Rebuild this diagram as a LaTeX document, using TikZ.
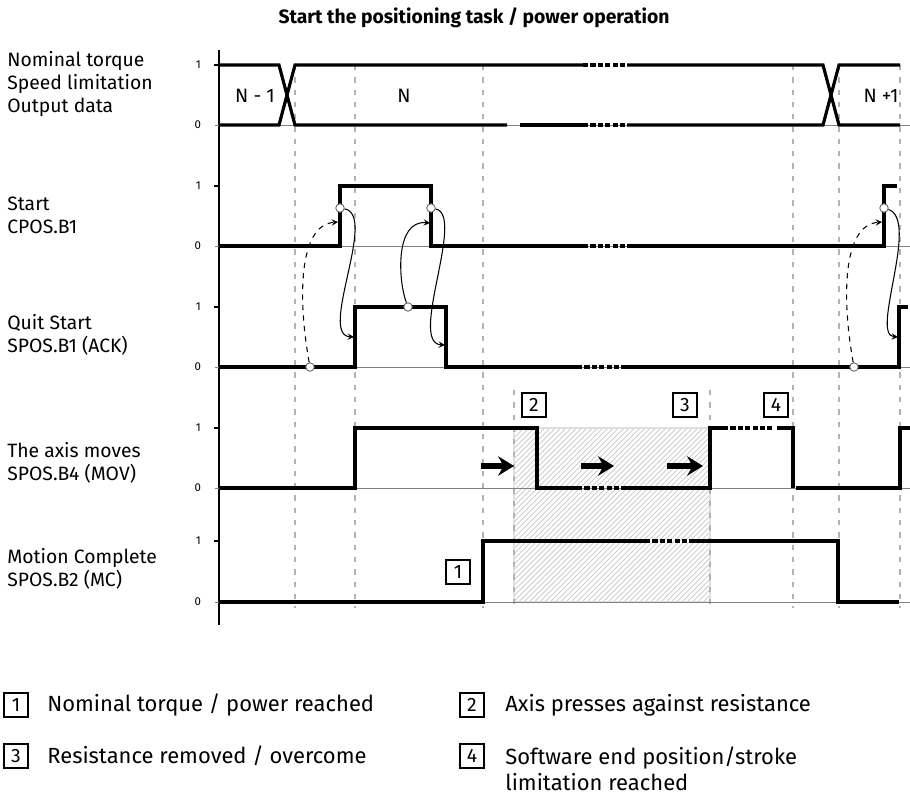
\documentclass[tikz,border=0pt]{standalone}
\usepackage{fontspec}
\setmainfont{Fira Sans}
\usepackage{tikz}
\usetikzlibrary{arrows,arrows.meta,positioning,patterns}

\begin{document}
\begin{tikzpicture}[
  x=0.02cm, y=-0.02cm,
  sig/.style={line width=1.8pt, line join=miter},
  gap/.style={line width=1.8pt, dash pattern=on 3pt off 1.2pt},
  base/.style={gray, line width=0.5pt},
  grid/.style={gray!60, line width=0.6pt, dash pattern=on 3pt off 4pt},
  tick/.style={font=\fontsize{6.5}{7}\selectfont, anchor=east, inner sep=1pt},
  lbl/.style={font=\fontsize{11}{13}\selectfont, anchor=west, align=left, inner sep=0pt},
  num/.style={draw, line width=0.6pt, minimum size=0.48cm, inner sep=0pt, font=\fontsize{11}{12}\selectfont},
  dot/.style={circle, draw=gray!80!black, fill=white, line width=0.5pt, minimum size=0.17cm, inner sep=0pt},
  flow/.style={->, >=stealth, line width=0.6pt},
  push/.style={-{Stealth[length=9pt, width=11pt, inset=3pt]}, line width=3pt},
  note/.style={font=\fontsize{12.5}{15}\selectfont, anchor=west, align=left, inner sep=0pt}
]
\useasboundingbox (0,0) rectangle (910,799);

% title
\node[font=\bfseries\fontsize{11}{13}\selectfont] (title) at (474,18) {Start the positioning task / power operation};

% hatched area
\fill[pattern=north east lines, pattern color=gray!45] (514,428) rectangle (710,602);
\draw[gray!25, line width=0.8pt] (514,428) rectangle (710,602);

% grid lines
\foreach \gx in {295,355,483,793,839,900}
  \draw[grid] (\gx,65) -- (\gx,608);
\foreach \gx in {514,710}
  \draw[grid] (\gx,390) -- (\gx,608);

% axis, zero lines and ticks
\draw[line width=0.8pt] (219,50) -- (219,625);
\foreach \hi/\lo in {65/125,186/246,307/367,428/488,541/602}{
  \draw[base] (215,\lo) -- (910,\lo);
  \draw[line width=0.6pt] (214,\hi) -- (219,\hi);
  \node[tick] at (203,\hi) {1};
  \node[tick] at (203,\lo) {0};
}

% signal names
\node[lbl] (data) at (7,84) {Nominal torque\\Speed limitation\\Output data};
\node[lbl] (start) at (7,215) {Start\\CPOS.B1};
\node[lbl] (quit) at (7,335) {Quit Start\\SPOS.B1 (ACK)};
\node[lbl] (mov) at (7,463) {The axis moves\\SPOS.B4 (MOV)};
\node[lbl] (mc) at (7,569) {Motion Complete\\SPOS.B2 (MC)};

% row 1: output data
\draw[sig] (219,65) -- (279,65) -- (295,125) -- (507,125);
\draw[sig] (520,125) -- (583,125);
\draw[gap] (583,125) -- (627,125);
\draw[sig] (627,125) -- (823,125) -- (839,65) -- (900,65);
\draw[sig] (219,125) -- (279,125) -- (295,65) -- (583,65);
\draw[gap] (583,65) -- (627,65);
\draw[sig] (627,65) -- (823,65) -- (839,125) -- (900,125);
\node[font=\fontsize{11}{12}\selectfont] (nprev) at (255,96) {N - 1};
\node[font=\fontsize{11}{12}\selectfont] (ncur) at (404,96) {N};
\node[font=\fontsize{11}{12}\selectfont] (nnext) at (881,96) {N +1};

% row 2: start
\draw[sig] (219,246) -- (340,246) -- (340,186) -- (431,186) -- (431,246) -- (583,246);
\draw[gap] (583,246) -- (627,246);
\draw[sig] (627,246) -- (884,246) -- (884,186) -- (897,186);

% row 3: quit start
\draw[sig] (219,367) -- (355,367) -- (355,307) -- (446,307) -- (446,367) -- (577,367);
\draw[gap] (577,367) -- (625,367);
\draw[sig] (625,367) -- (899,367) -- (899,307) -- (908,307);

% row 4: axis moves
\draw[sig] (219,488) -- (355,488) -- (355,428) -- (537,428) -- (537,488) -- (577,488);
\draw[gap] (577,488) -- (625,488);
\draw[sig] (625,488) -- (710,488) -- (710,428) -- (723,428);
\draw[gap] (723,428) -- (772,428);
\draw[sig] (777,428) -- (793,428) -- (793,488);
\draw[sig] (796,488) -- (900,488) -- (900,428) -- (910,428);

% row 5: motion complete
\draw[sig] (219,602) -- (483,602) -- (483,541) -- (645,541);
\draw[gap] (645,541) -- (695,541);
\draw[sig] (695,541) -- (838,541) -- (838,602) -- (899,602);

% handshake
\node[dot] (s1) at (340,208) {};
\node[dot] (s2) at (431,208) {};
\node[dot] (s3) at (884,208) {};
\node[dot] (q1) at (310,367) {};
\node[dot] (q2) at (408,307) {};
\node[dot] (q3) at (854,367) {};
\coordinate (a1) at (338,222);
\coordinate (a2) at (354,337);
\coordinate (a3) at (430,223);
\coordinate (a4) at (445,345);
\coordinate (a5) at (882,222);
\coordinate (a6) at (898,337);
\draw[flow, dashed] (q1) .. controls (298,300) and (298,225) .. (a1);
\draw[flow] (s1) .. controls (378,215) and (318,335) .. (a2);
\draw[flow] (q2) .. controls (398,280) and (395,220) .. (a3);
\draw[flow] (s2) .. controls (466,215) and (408,343) .. (a4);
\draw[flow, dashed] (q3) .. controls (842,300) and (842,225) .. (a5);
\draw[flow] (s3) .. controls (920,220) and (870,335) .. (a6);

% movement arrows
\coordinate (m1) at (481,466); \coordinate (m1e) at (514,466);
\coordinate (m2) at (581,466); \coordinate (m2e) at (614,466);
\coordinate (m3) at (667,466); \coordinate (m3e) at (703,466);
\draw[push] (m1) -- (m1e);
\draw[push] (m2) -- (m2e);
\draw[push] (m3) -- (m3e);

% event markers
\node[num] (e1) at (458,572) {1};
\node[num] (e2) at (534,405) {2};
\node[num] (e3) at (685,405) {3};
\node[num] (e4) at (776,405) {4};

% legend
\node[num] (k1) at (16,705) {1};
\node[note] (t1) at (47,705) {Nominal torque / power reached};
\node[num] (k2) at (472,705) {2};
\node[note] (t2) at (505,705) {Axis presses against resistance};
\node[num] (k3) at (16,756) {3};
\node[note] (t3) at (47,756) {Resistance removed / overcome};
\node[num] (k4) at (472,756) {4};
\node[note, anchor=north west] (t4) at (505,746) {Software end position/stroke\\limitation reached};
\end{tikzpicture}
\end{document}
